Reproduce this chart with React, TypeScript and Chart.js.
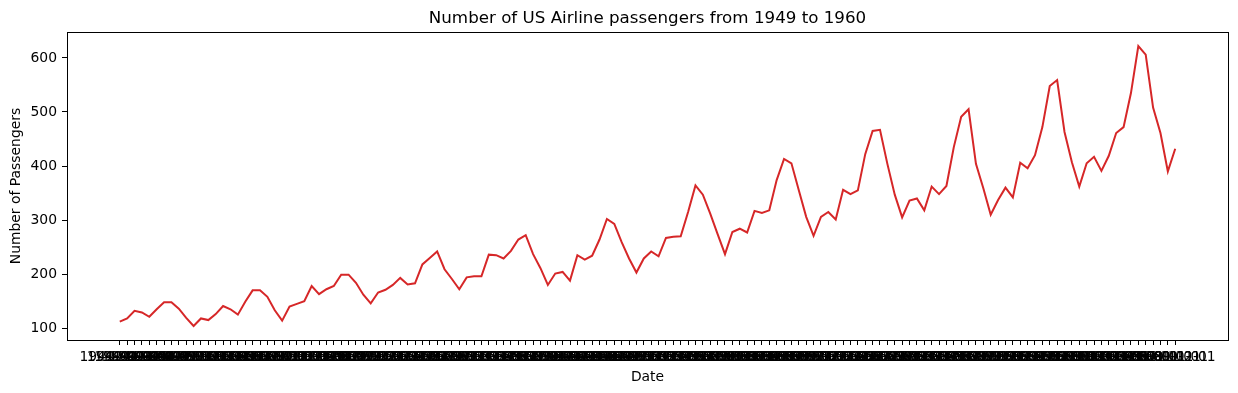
import React, { useEffect, useRef } from "react";
import { Chart, registerables } from "chart.js";

Chart.register(...registerables);

const years = [1949, 1950, 1951, 1952, 1953, 1954, 1955, 1956, 1957, 1958, 1959, 1960];
const months = ["01", "02", "03", "04", "05", "06", "07", "08", "09", "10", "11", "12"];

const p1949 = [112, 118, 132, 129, 121, 135, 148, 148, 136, 119, 104, 118];
const p1950 = [115, 126, 141, 135, 125, 149, 170, 170, 158, 133, 114, 140];
const p1951 = [145, 150, 178, 163, 172, 178, 199, 199, 184, 162, 146, 166];
const p1952 = [171, 180, 193, 181, 183, 218, 230, 242, 209, 191, 172, 194];
const p1953 = [196, 196, 236, 235, 229, 243, 264, 272, 237, 211, 180, 201];
const p1954 = [204, 188, 235, 227, 234, 264, 302, 293, 259, 229, 203, 229];
const p1955 = [242, 233, 267, 269, 270, 315, 364, 347, 312, 274, 237, 278];
const p1956 = [284, 277, 317, 313, 318, 374, 413, 405, 355, 306, 271, 306];
const p1957 = [315, 301, 356, 348, 355, 422, 465, 467, 404, 347, 305, 336];
const p1958 = [340, 318, 362, 348, 363, 435, 491, 505, 404, 359, 310, 337];
const p1959 = [360, 342, 406, 396, 420, 472, 548, 559, 463, 407, 362, 405];
const p1960 = [417, 391, 419, 461, 472, 535, 622, 606, 508, 461, 390, 432];

const passengers = [
  ...p1949, ...p1950, ...p1951, ...p1952, ...p1953, ...p1954,
  ...p1955, ...p1956, ...p1957, ...p1958, ...p1959, ...p1960,
];

const dates: string[] = [];
years.forEach((y) => months.forEach((m) => dates.push(`${y}-${m}-01`)));

const yTicks = [100, 200, 300, 400, 500, 600];

const FONT = "'DejaVu Sans', sans-serif";

export default function App() {
  const ref = useRef<HTMLCanvasElement | null>(null);

  useEffect(() => {
    if (!ref.current) return;
    const n = passengers.length;
    const xMargin = (n - 1) * 0.05;
    const yMin = Math.min(...passengers);
    const yMax = Math.max(...passengers);
    const yMargin = (yMax - yMin) * 0.05;

    const frame = {
      id: "frame",
      afterDraw(chart: any) {
        const { ctx, chartArea } = chart;
        ctx.save();
        ctx.strokeStyle = "#000";
        ctx.lineWidth = 1;
        ctx.strokeRect(
          Math.round(chartArea.left) + 0.5,
          Math.round(chartArea.top) + 0.5,
          Math.round(chartArea.right - chartArea.left),
          Math.round(chartArea.bottom - chartArea.top)
        );
        ctx.restore();
      },
    };

    const chart = new Chart(ref.current, {
      type: "line",
      data: {
        datasets: [
          {
            data: passengers.map((v, i) => ({ x: i, y: v })),
            borderColor: "#d62728",
            borderWidth: 2,
            pointRadius: 0,
            tension: 0,
            fill: false,
          },
        ],
      },
      options: {
        responsive: false,
        animation: false,
        devicePixelRatio: 1,
        layout: { padding: { left: 0, right: 10, top: 0, bottom: 0 } },
        plugins: {
          legend: { display: false },
          tooltip: { enabled: false },
          title: {
            display: true,
            fullSize: false,
            text: "Number of US Airline passengers from 1949 to 1960",
            color: "#000",
            font: { family: FONT, size: 16.7, weight: "normal" },
            padding: { top: 9, bottom: 3 },
          },
        },
        scales: {
          x: {
            type: "linear",
            min: -xMargin,
            max: n - 1 + xMargin,
            afterBuildTicks(scale: any) {
              scale.ticks = dates.map((_, i) => ({ value: i }));
            },
            afterFit(scale: any) {
              scale.height = 53;
            },
            ticks: {
              autoSkip: false,
              maxRotation: 0,
              minRotation: 0,
              padding: 4,
              color: "#000",
              font: { family: FONT, size: 13.9 },
              callback: (v: any) => dates[v] ?? "",
            },
            grid: {
              display: true,
              drawOnChartArea: false,
              drawTicks: true,
              tickLength: 5,
              color: "#000",
              lineWidth: 1,
            },
            border: { display: false },
            title: {
              display: true,
              text: "Date",
              color: "#000",
              font: { family: FONT, size: 13.9 },
              padding: { top: 0, bottom: 7 },
            },
          },
          y: {
            type: "linear",
            min: yMin - yMargin,
            max: yMax + yMargin,
            afterBuildTicks(scale: any) {
              scale.ticks = yTicks.map((v) => ({ value: v }));
            },
            afterFit(scale: any) {
              scale.width = 67;
            },
            ticks: {
              padding: 5,
              color: "#000",
              font: { family: FONT, size: 13.9 },
            },
            grid: {
              display: true,
              drawOnChartArea: false,
              drawTicks: true,
              tickLength: 5,
              color: "#000",
              lineWidth: 1,
            },
            border: { display: false },
            title: {
              display: true,
              text: "Number of Passengers",
              color: "#000",
              font: { family: FONT, size: 13.9 },
              padding: { top: 8, bottom: 0 },
            },
          },
        },
      },
      plugins: [frame],
    });
    return () => chart.destroy();
  }, []);

  return (
    <div style={{ position: "absolute", left: 0, top: 0, width: 1238, height: 393, background: "#fff" }}>
      <canvas ref={ref} width={1238} height={393} style={{ width: 1238, height: 393 }} />
    </div>
  );
}
